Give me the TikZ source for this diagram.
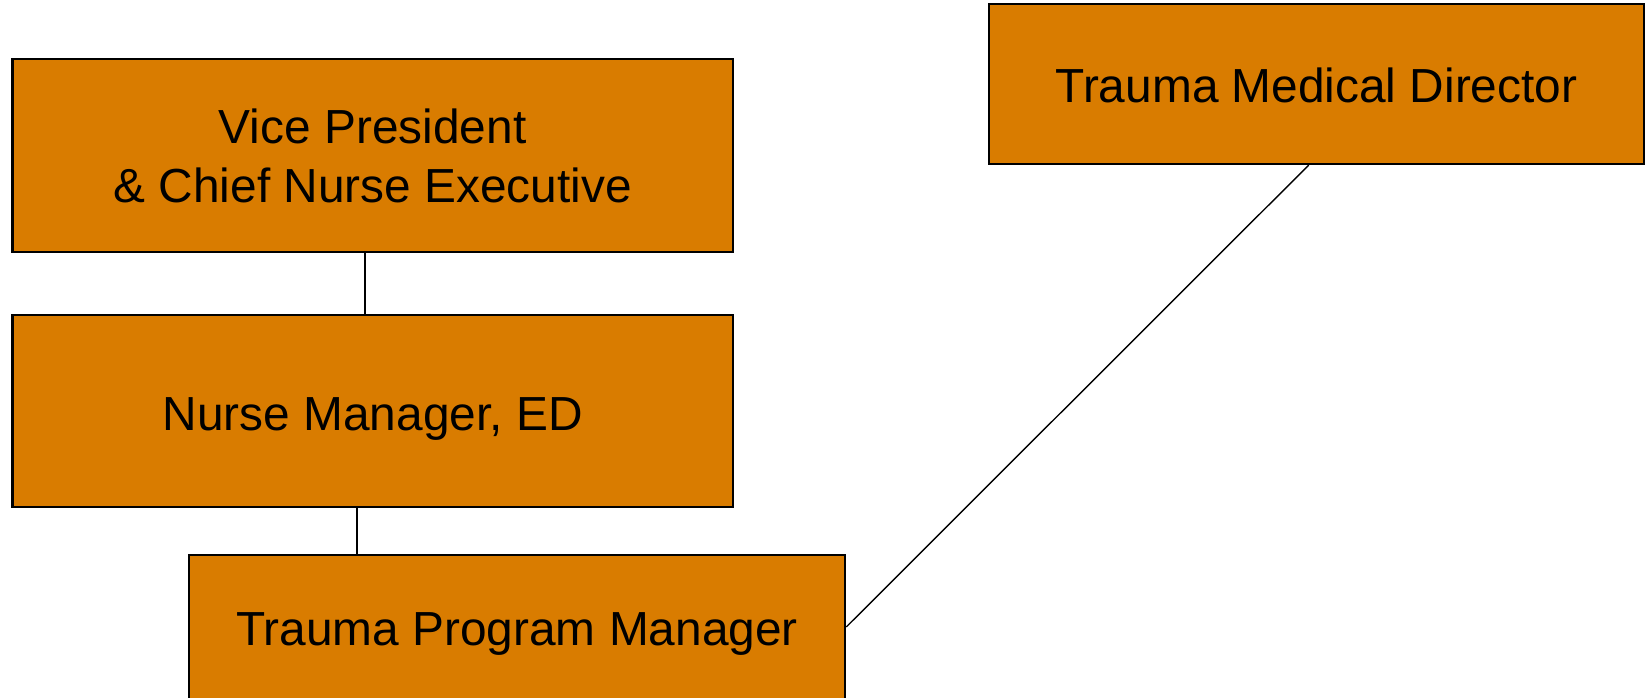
\documentclass[tikz,border=0pt]{standalone}
\usepackage{fontspec}
\setmainfont{Liberation Sans}
\usepackage{xcolor}
\usepackage{tikz}
\definecolor{boxfill}{HTML}{D97C00}
\tikzset{
  post/.style={rectangle, draw=black, fill=boxfill, line width=0.6pt, align=center, inner sep=0pt, font=\fontsize{13.6}{16.8}\selectfont},
  oneline/.style={text height=10.8pt, text depth=0pt},
  link/.style={draw=black, line width=0.4pt},
}

\begin{document}
\begin{tikzpicture}[x=0.01cm, y=-0.01cm]
  \useasboundingbox (0,0) rectangle (1645,698);
  \clip (0,0) rectangle (1645,698);
  \node[post, minimum width=7.2cm, minimum height=1.924cm] (vp) at (372.7,155.5) {Vice President\\\& Chief Nurse Executive};
  \node[post, oneline, minimum width=7.2cm, minimum height=1.923cm] (nm) at (372.7,411.2) {Nurse Manager, ED};
  \node[post, oneline, minimum width=6.56cm, minimum height=1.44cm] (tpm) at (517,627) {Trauma Program Manager};
  \node[post, oneline, minimum width=6.55cm, minimum height=1.6cm] (tmd) at (1316.5,84) {Trauma Medical Director};
  % the links sit a little left of the box centres
  \coordinate (up) at (365,0);
  \coordinate (down) at (357,0);
  \coordinate (side) at (1308.7,0);
  \draw[link] (vp.south -| up) -- (nm.north -| up);
  \draw[link] (nm.south -| down) -- (tpm.north -| down);
  \draw[link] (tmd.south -| side) -- (tpm.east);
\end{tikzpicture}
\end{document}
